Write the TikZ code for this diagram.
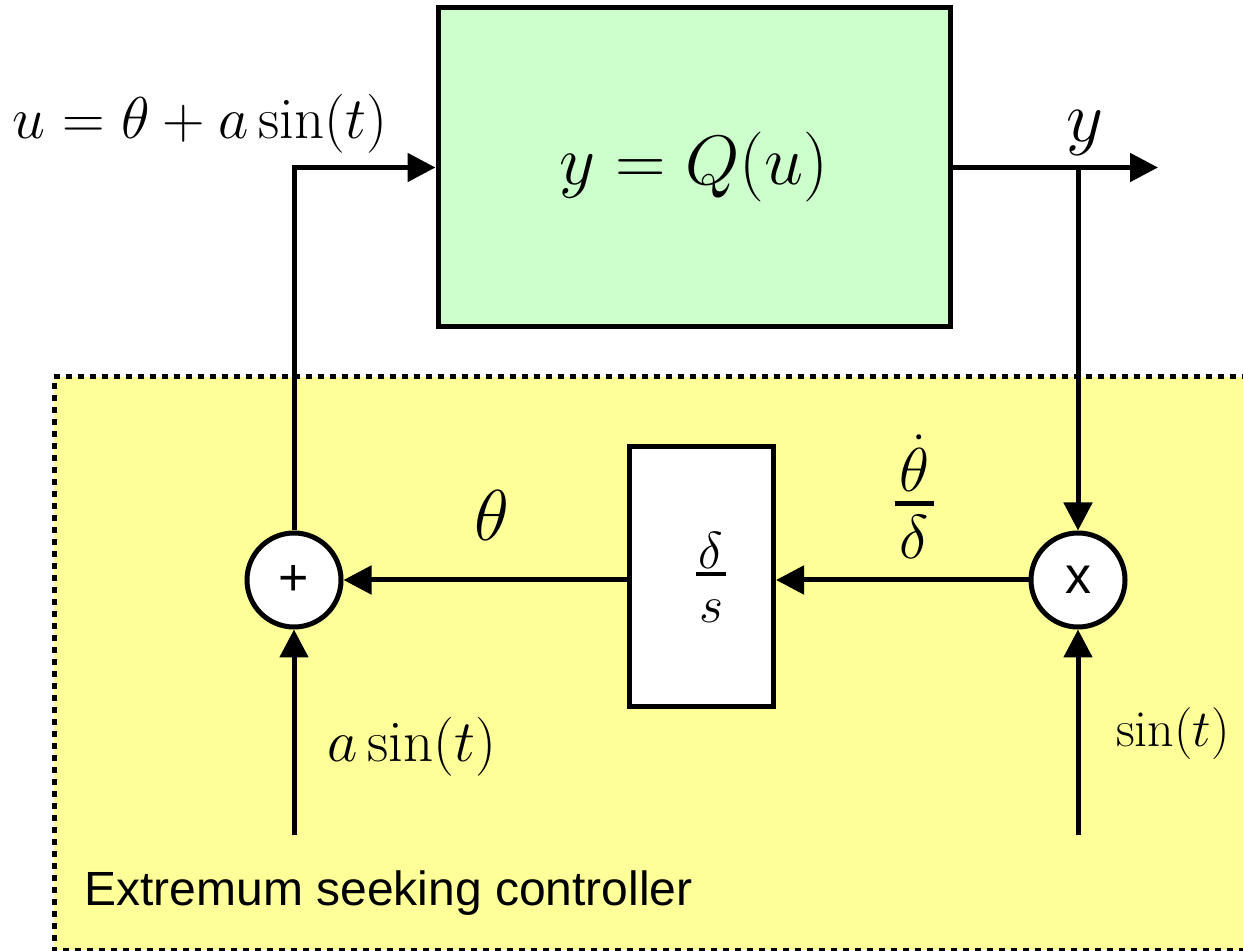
\RequirePackage{fix-cm}
\documentclass[tikz,border=0pt]{standalone}
\usepackage{amsmath}
\usepackage{fontspec}
\newfontfamily\arialf{Liberation Sans}
\usetikzlibrary{arrows.meta}
\definecolor{plantgreen}{HTML}{CCFFCC}
\definecolor{escyellow}{HTML}{FFFF99}
% stacked fraction: #1 num, #2 den, #3 gap above rule, #4 rule thickness, #5 gap below rule, #6 side padding
\newcommand\myvfrac[6]{\vbox{\offinterlineskip\halign{\hfil\kern#6##\kern#6\hfil\cr$#1$\cr\noalign{\kern#3\hrule height #4\kern#5}$#2$\cr}}}
\begin{document}
\begin{tikzpicture}[x=0.5pt,y=-0.5pt,
  conn/.style={line width=2.5pt,-{Triangle[length=14pt,width=14pt]}},
  blockbox/.style={draw,line width=2.5pt,inner sep=0pt,fill=white},
  sumnode/.style={circle,draw,fill=white,line width=2.5pt,minimum size=47pt,inner sep=0pt,font=\arialf\fontsize{26}{30}\selectfont},
  lbl/.style={inner sep=0pt,font=\fontsize{29.5}{34}\selectfont}]
\useasboundingbox (0,0) rectangle (1243,951);
\begin{scope}
\clip (0,0) rectangle (1243,951);
\fill[escyellow] (54,377) rectangle (1260,950);
\draw[line width=2.5pt,dash pattern=on 3pt off 3pt] (1260,377) -- (54,377) -- (54,950) -- (1260,950);
\end{scope}
\node[blockbox,fill=plantgreen,minimum width=256pt,minimum height=159.5pt,font=\fontsize{35}{40}\selectfont] (plant) at (694,167.5) {$y=Q(u)$};
\node[blockbox,minimum width=72pt,minimum height=130pt] (integ) at (701.5,577) {};
\node[inner sep=0pt,font=\fontsize{26}{30}\selectfont] (integlbl) at (711,577.5) {\myvfrac{\delta}{s}{2pt}{2pt}{12pt}{1.25pt}};
\node[sumnode] (sum) at (294,580) {+};
\node[sumnode] (mul) at (1078,580) {x};
\coordinate (yout) at (1158,169);
\coordinate (ain) at (294,835);
\coordinate (sin) at (1078,835);
\draw[conn] (sum.north) |- (plant.west);
\draw[conn] (plant.east) -- (plant.east -| yout);
\draw[conn] (plant.east -| mul.north) -- (mul.north);
\draw[conn] (mul.west) -- (mul.west -| integ.east);
\draw[conn] (integ.west |- sum.east) -- (sum.east);
\draw[conn] (ain) -- (sum.south);
\draw[conn] (sin) -- (mul.south);
\node[lbl] (ulbl) at (200,124) {$u=\theta+a\sin(t)$};
\node[lbl,font=\fontsize{36}{40}\selectfont] (ylbl) at (1085,133.5) {$y$};
\node[lbl,font=\fontsize{36}{40}\selectfont] (thlbl) at (492,516) {$\theta$};
\node[lbl,font=\fontsize{31}{36}\selectfont] (thdlbl) at (914.5,496.5) {\myvfrac{\dot\theta}{\delta}{5pt}{2.5pt}{4.5pt}{2.5pt}};
\node[lbl] (alnl) at (411.5,746.5) {$a\sin(t)$};
\node[lbl,font=\fontsize{26}{30}\selectfont] (sinlbl) at (1173,734) {$\sin(t)$};
\node[inner sep=0pt,anchor=base west,font=\arialf\fontsize{24}{28}\selectfont] (esc) at (84,905) {Extremum seeking controller};
\end{tikzpicture}
\end{document}
